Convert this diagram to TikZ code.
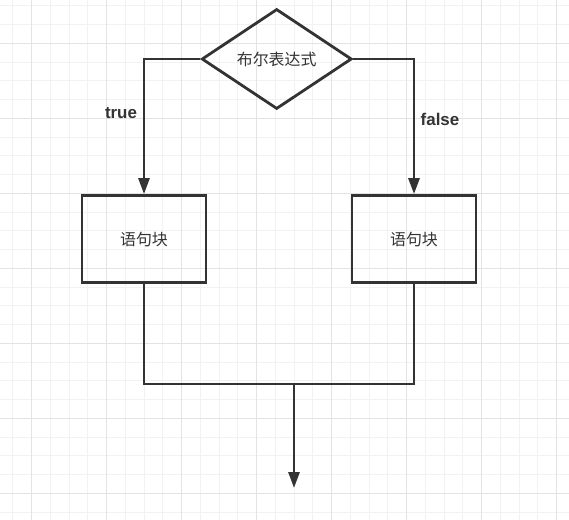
\documentclass[tikz,border=0pt]{standalone}
\usepackage{fontspec}
\usetikzlibrary{shapes.geometric,arrows.meta}
\newfontfamily\cjk{Noto Sans CJK SC}
\newfontfamily\labelfont{Liberation Sans}
\definecolor{ink}{HTML}{333333}
\definecolor{gridminor}{HTML}{F2F2F2}
\definecolor{gridmajor}{HTML}{E3E3E3}

\begin{document}
\begin{tikzpicture}[x=1bp,y=-1bp,
        line/.style={draw=ink,line width=2.8bp},
        arrow/.style={line,-{Triangle[length=16bp,width=11bp]}},
        block/.style={line,rectangle,minimum width=124bp,minimum height=87bp,
            inner sep=0pt,text=ink,font=\cjk\fontsize{16}{19}\selectfont},
        decision/.style={line,diamond,minimum width=150bp,minimum height=100bp,
            inner sep=0pt,text=ink,font=\cjk\fontsize{16}{19}\selectfont},
        tag/.style={text=ink,font=\labelfont\bfseries\fontsize{17}{20}\selectfont}]
\useasboundingbox (0,0) rectangle (569,520);
\fill[white] (0,0) rectangle (569,520);

% background grid
\foreach \gx in {12.95,31.7,...,569} \draw[gridminor,line width=1bp] (\gx,0) -- (\gx,520);
\foreach \gy in {5.8,24.55,...,520} \draw[gridminor,line width=1bp] (0,\gy) -- (569,\gy);
\foreach \gx in {31.7,106.7,...,569} \draw[gridmajor,line width=1bp] (\gx,0) -- (\gx,520);
\foreach \gy in {43.3,118.3,...,520} \draw[gridmajor,line width=1bp] (0,\gy) -- (569,\gy);

\node[decision] (cond) at (276.7,59) {布尔表达式};
\node[block] (blockT) at (144,239) {语句块};
\node[block] (blockF) at (414,239) {语句块};
\node[tag] (lblT) at (121,113) {true};
\node[tag] (lblF) at (440,119) {false};
\coordinate (join) at (294,384);
\coordinate (exit) at (294,488);

\draw[arrow] (cond.west) -| (blockT.north);
\draw[arrow] (cond.east) -| (blockF.north);
\draw[line] (blockT.south) |- (join);
\draw[line] (blockF.south) |- (join);
\draw[arrow] (join) -- (exit);

\end{tikzpicture}
\end{document}
